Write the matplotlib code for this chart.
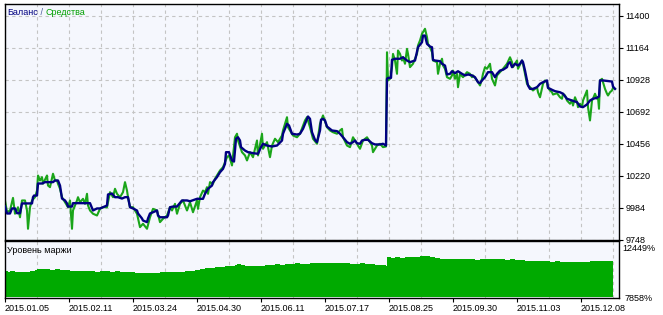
import numpy as np
import matplotlib
matplotlib.use("Agg")
import matplotlib.pyplot as plt

plt.rcParams['font.family'] = ['Liberation Sans', 'DejaVu Sans']

# deal index -> balance / equity
balance_pts = [
    (0, 9991), (2, 9940), (5, 9940), (7, 9977), (10, 9977), (12, 9942), (15, 9942), (17, 10014),
    (27, 10014), (28, 10060), (29, 10072), (32, 10072), (33, 10161), (37, 10161), (40, 10171),
    (48, 10171), (50, 10183), (53, 10183), (55, 10146), (57, 10050), (60, 10036), (62, 10014),
    (63, 9991), (67, 9991), (68, 10016), (85, 10016), (88, 9962), (92, 9977), (95, 9977),
    (98, 9986), (102, 9999), (103, 10080), (107, 10087), (110, 10060), (113, 10060), (117, 10050),
    (120, 10060), (123, 10060), (125, 9986), (128, 9977), (132, 9962), (133, 9940), (137, 9903),
    (138, 9888), (142, 9876), (143, 9903), (145, 9940), (148, 9949), (152, 9962), (153, 9925),
    (155, 9912), (162, 9912), (163, 9925), (165, 9986), (168, 9991), (172, 9991), (177, 10036),
    (182, 10036), (185, 10030), (192, 10048), (198, 10048), (200, 10085), (203, 10122),
    (207, 10146), (208, 10171), (212, 10208), (215, 10244), (218, 10269), (220, 10306),
    (221, 10392), (224, 10392), (227, 10331), (229, 10323), (231, 10491), (233, 10502),
    (235, 10478), (236, 10429), (240, 10404), (243, 10392), (248, 10385), (253, 10380),
    (256, 10429), (258, 10454), (262, 10441), (267, 10434), (272, 10441), (277, 10478),
    (278, 10528), (282, 10601), (284, 10589), (287, 10528), (292, 10522), (295, 10528),
    (298, 10564), (300, 10601), (303, 10655), (305, 10638), (307, 10539), (310, 10483),
    (312, 10466), (315, 10552), (316, 10631), (318, 10638), (320, 10626), (322, 10581),
    (325, 10564), (327, 10552), (332, 10547), (335, 10528), (338, 10502), (342, 10466),
    (345, 10454), (348, 10466), (350, 10478), (352, 10458), (355, 10454), (357, 10478),
    (360, 10483), (363, 10483), (367, 10458), (370, 10449), (375, 10449), (378, 10454),
    (381, 10441), (382, 10933), (383, 10940), (386, 10940), (387, 11073), (390, 11081),
    (395, 11081), (398, 11092), (402, 11068), (405, 11056), (410, 11068), (413, 11166),
    (417, 11203), (418, 11252), (420, 11252), (422, 11191), (425, 11171), (427, 11166),
    (428, 11073), (430, 11068), (435, 11063), (437, 11044), (440, 11031), (442, 10965),
    (445, 10970), (447, 10989), (450, 10975), (453, 10989), (457, 10970), (460, 10958),
    (463, 10965), (467, 10958), (470, 10945), (473, 10908), (475, 10901), (477, 10921),
    (480, 10945), (483, 10982), (487, 10982), (490, 10945), (492, 10970), (495, 10994),
    (498, 11000), (502, 11019), (503, 11044), (505, 11056), (507, 11019), (510, 11044),
    (513, 11031), (515, 11044), (517, 11068), (518, 11056), (520, 10994), (522, 10921),
    (523, 10884), (525, 10859), (528, 10859), (532, 10871), (535, 10896), (538, 10908),
    (542, 10921), (543, 10867), (547, 10852), (550, 10842), (555, 10834), (558, 10823),
    (562, 10786), (567, 10773), (572, 10761), (575, 10729), (578, 10724), (582, 10744),
    (585, 10773), (588, 10786), (592, 10793), (594, 10803), (595, 10921), (598, 10921),
    (607, 10913), (608, 10876), (610, 10859),
]

equity_pts = [
    (0, 10036), (2, 9949), (5, 9962), (8, 10055), (10, 9938), (13, 9986), (15, 9912), (17, 10036),
    (20, 10036), (22, 9962), (23, 9827), (25, 9986), (27, 10036), (30, 10060), (32, 10109),
    (33, 10220), (35, 10183), (37, 10208), (38, 10159), (42, 10220), (43, 10146), (45, 10134),
    (48, 10233), (50, 10183), (52, 10183), (53, 10159), (55, 10122), (57, 10060), (60, 10023),
    (63, 9986), (65, 10036), (67, 9827), (68, 9962), (72, 10036), (73, 10060), (75, 10023),
    (78, 10048), (80, 10011), (82, 10085), (83, 9999), (85, 9962), (88, 9938), (92, 9925),
    (95, 9974), (98, 9986), (102, 9986), (105, 10097), (108, 10060), (110, 10122), (112, 10085),
    (115, 10060), (118, 10097), (120, 10171), (122, 10109), (123, 10060), (125, 9986),
    (128, 9986), (132, 9938), (135, 9839), (138, 9864), (142, 9827), (145, 9912), (148, 9974),
    (152, 9962), (155, 9876), (158, 9901), (162, 9925), (165, 9986), (167, 9962), (170, 10011),
    (172, 9938), (175, 10011), (178, 10036), (182, 9962), (185, 10023), (188, 9949),
    (192, 10036), (193, 9974), (195, 10060), (198, 10109), (200, 10097), (202, 10134),
    (203, 10085), (205, 10171), (208, 10159), (210, 10196), (212, 10220), (215, 10257),
    (218, 10281), (222, 10355), (224, 10368), (227, 10294), (230, 10502), (232, 10528),
    (233, 10478), (237, 10392), (240, 10368), (242, 10331), (245, 10392), (248, 10355),
    (252, 10478), (253, 10368), (257, 10528), (258, 10417), (262, 10466), (265, 10355),
    (267, 10441), (270, 10491), (273, 10466), (277, 10515), (278, 10552), (282, 10650),
    (283, 10576), (285, 10552), (288, 10515), (292, 10502), (295, 10528), (300, 10626),
    (302, 10650), (303, 10626), (305, 10576), (308, 10491), (312, 10454), (315, 10601),
    (318, 10663), (322, 10576), (325, 10552), (328, 10539), (332, 10528), (335, 10552),
    (337, 10564), (338, 10502), (342, 10441), (345, 10429), (348, 10502), (352, 10454),
    (355, 10417), (358, 10478), (362, 10502), (367, 10441), (368, 10392), (372, 10441),
    (375, 10454), (378, 10429), (381, 10434), (382, 11129), (383, 10921), (385, 10933),
    (387, 11019), (388, 11117), (390, 11068), (392, 10970), (393, 11142), (395, 11117),
    (397, 11068), (398, 11092), (400, 11044), (402, 11154), (403, 11117), (405, 11019),
    (408, 11044), (412, 11117), (413, 11179), (415, 11216), (417, 11265), (420, 11302),
    (422, 11240), (423, 11191), (425, 11166), (427, 11129), (428, 11068), (432, 11056),
    (433, 10970), (435, 11044), (437, 11081), (438, 11031), (440, 11007), (442, 10945),
    (445, 10933), (447, 10958), (448, 10994), (450, 10933), (452, 10970), (453, 10871),
    (455, 10970), (458, 10945), (462, 10982), (465, 10970), (467, 10945), (468, 10958),
    (472, 10921), (475, 10884), (477, 10933), (478, 10970), (480, 11019), (482, 11007),
    (485, 11044), (487, 10933), (490, 10884), (492, 10958), (495, 10982), (498, 11007),
    (502, 11044), (505, 11092), (507, 11056), (508, 11019), (512, 11068), (513, 11007),
    (517, 11068), (518, 11044), (520, 10970), (522, 10896), (525, 10871), (528, 10847),
    (532, 10871), (533, 10834), (535, 10797), (538, 10896), (540, 10921), (542, 10908),
    (543, 10867), (545, 10847), (547, 10834), (548, 10817), (552, 10827), (555, 10797),
    (557, 10786), (558, 10823), (560, 10810), (562, 10773), (565, 10749), (567, 10773),
    (568, 10736), (570, 10797), (572, 10761), (573, 10724), (575, 10749), (577, 10724),
    (578, 10773), (582, 10847), (583, 10724), (585, 10626), (587, 10773), (588, 10786),
    (590, 10823), (592, 10786), (593, 10797), (594, 10712), (595, 10921), (597, 10933),
    (600, 10859), (602, 10823), (603, 10810), (605, 10834), (607, 10847), (608, 10867),
    (610, 10859),
]

# margin level, %
margin_pts = [
    (0, 9957), (3, 9900), (5, 9957), (10, 9930), (15, 9875), (20, 9950), (25, 10020),
    (30, 10100), (32, 10179), (36, 10150), (40, 10160), (45, 10110), (50, 10120), (55, 10097),
    (60, 10050), (65, 10000), (70, 9980), (75, 9957), (80, 9990), (85, 9957), (90, 9930),
    (95, 9957), (100, 9980), (105, 9940), (110, 9960), (115, 9900), (120, 9930), (125, 9880),
    (130, 9870), (135, 9850), (140, 9826), (145, 9860), (150, 9850), (155, 9890), (160, 9875),
    (165, 9920), (170, 9950), (175, 9930), (180, 9980), (185, 10020), (190, 10100),
    (195, 10179), (200, 10200), (205, 10260), (210, 10300), (215, 10330), (220, 10380),
    (225, 10425), (230, 10500), (232, 10564), (236, 10480), (240, 10420), (245, 10367),
    (250, 10420), (255, 10400), (260, 10500), (265, 10450), (270, 10520), (275, 10500),
    (280, 10560), (285, 10540), (290, 10600), (295, 10589), (300, 10560), (305, 10620),
    (310, 10640), (315, 10600), (320, 10671), (325, 10620), (330, 10640), (335, 10610),
    (340, 10600), (345, 10580), (350, 10560), (355, 10600), (360, 10520), (365, 10540),
    (370, 10470), (375, 10450), (381, 10425), (382, 11081), (386, 11000), (390, 11081),
    (395, 11040), (400, 11081), (405, 11150), (410, 11120), (415, 11220), (420, 11180),
    (425, 11100), (430, 11050), (435, 10941), (440, 10980), (445, 10941), (450, 10960),
    (455, 10920), (460, 10950), (465, 10941), (470, 10900), (475, 10950), (480, 10930),
    (485, 10960), (490, 10920), (495, 10941), (500, 10900), (505, 10920), (510, 10880),
    (515, 10850), (520, 10810), (525, 10830), (530, 10790), (535, 10790), (540, 10770),
    (545, 10753), (550, 10760), (555, 10730), (560, 10740), (565, 10720), (570, 10740),
    (575, 10728), (580, 10700), (585, 10760), (590, 10780), (595, 10810), (600, 10790),
    (605, 10800), (608, 10800),
]

date_labels = ['2015.01.05', '2015.02.11', '2015.03.24', '2015.04.30', '2015.06.11',
               '2015.07.17', '2015.08.25', '2015.09.30', '2015.11.03', '2015.12.08']
y_ticks = [9748, 9984, 10220, 10456, 10692, 10928, 11164, 11400]
margin_lo, margin_hi = 7858, 12449

bal_t, bal_v = zip(*balance_pts)
eq_t, eq_v = zip(*equity_pts)
mg_t, mg_v = zip(*margin_pts)

fs = 6.5
bg = '#F5F7FD'
grid_kw = dict(color='#C4C4C4', linestyle=(0, (3, 3)), linewidth=0.8)

W, H = 663, 315
fig = plt.figure(figsize=(W / 100, H / 100), dpi=100)
fig.patch.set_facecolor('white')


def box(x0, y0, x1, y1):
    return [x0 / W, 1 - y1 / H, (x1 - x0) / W, (y1 - y0) / H]


ax = fig.add_axes(box(5, 4, 618.5, 239.5))
ax2 = fig.add_axes(box(5, 240.5, 618.5, 297.5))

xmax = 613.5

# ---- balance / equity
ax.set_facecolor(bg)
ax.plot(eq_t, eq_v, color='#1AA51A', lw=1.5, zorder=2)
ax.plot(bal_t, bal_v, color='#000080', lw=1.7, zorder=3)
ax.set_xlim(0, xmax)
ax.set_ylim(9748, 9748 + 235.5 * 7.375)
ax.yaxis.tick_right()
ax.set_yticks(y_ticks)
ax.set_yticklabels([str(v) for v in y_ticks])
ax.set_xticks(np.arange(0, 614, 32))
ax.tick_params(axis='x', length=0, labelbottom=False)
ax.tick_params(axis='y', length=3, width=0.8, pad=2, labelsize=fs)
ax.grid(True, **grid_kw)
ax.set_axisbelow(True)
for s in ax.spines.values():
    s.set_linewidth(1.0)

t1 = ax.text(0.004, 0.962, 'Баланс', color='#000080', fontsize=fs,
             transform=ax.transAxes, va='center', ha='left')
t2 = ax.annotate(' / ', xy=(1, 0.5), xycoords=t1, va='center', ha='left',
                 color='#4A5A9A', fontsize=fs)
ax.annotate('Средства', xy=(1, 0.5), xycoords=t2, va='center', ha='left',
            color='#00A000', fontsize=fs)

# ---- margin level
ax2.set_facecolor(bg)
ax2.fill_between(mg_t, margin_lo, mg_v, step='post', color='#00AA00', lw=0, zorder=2)
ax2.set_xlim(0, xmax)
ax2.set_ylim(margin_lo, margin_hi)
ax2.yaxis.tick_right()
ax2.set_yticks([margin_lo])
ax2.set_yticklabels([f'{margin_lo}%'])
ax2.tick_params(axis='y', length=0, pad=4, labelsize=fs)
ax2.annotate(f'{margin_hi}%', xy=(1, 1), xycoords='axes fraction',
             xytext=(3, -2.5), textcoords='offset points',
             ha='left', va='top', fontsize=fs)
ax2.set_xticks(np.arange(0, 614, 64))
ax2.set_xticklabels(date_labels)
for lbl in ax2.get_xticklabels():
    lbl.set_ha('left')
ax2.set_xticks(np.arange(0, 614, 32), minor=True)
ax2.tick_params(axis='x', which='major', length=3, width=0.8, pad=2, labelsize=fs)
ax2.tick_params(axis='x', which='minor', length=0)
ax2.grid(True, which='minor', axis='x', **grid_kw)
ax2.set_axisbelow(True)
for s in ax2.spines.values():
    s.set_linewidth(1.0)
ax2.text(0.004, 0.83, 'Уровень маржи', fontsize=fs, color='black',
         transform=ax2.transAxes, va='center', ha='left')

fig.savefig('out.png', dpi=100, facecolor='white')
